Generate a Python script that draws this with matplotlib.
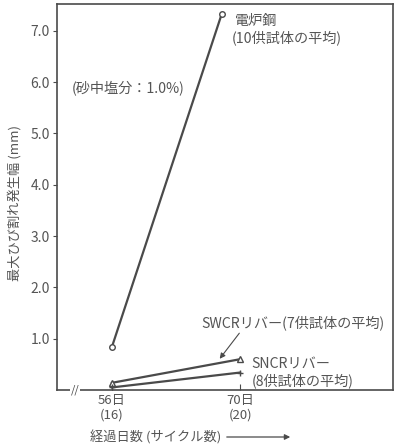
import matplotlib.pyplot as plt
import matplotlib as mpl
mpl.rcParams['font.family'] = ['Noto Sans CJK JP', 'DejaVu Sans']

# data
days_furnace = [56, 68]
crack_furnace = [0.84, 7.33]
days_swcr = [56, 70]
crack_swcr = [0.14, 0.60]
days_sncr = [56, 70]
crack_sncr = [0.05, 0.34]
yticks = [1.0, 2.0, 3.0, 4.0, 5.0, 6.0, 7.0]
xticks = [56, 70]
xticklabels = ['56日\n(16)', '70日\n(20)']

ink = '#4a4a4a'
txt = '#555555'
fs = 10.2

fig = plt.figure(figsize=(3.94, 4.47), dpi=100)
ax = fig.add_axes([57 / 394, 1 - 390 / 447, 336 / 394, 386 / 447])

ax.plot(days_furnace, crack_furnace, color=ink, lw=1.6, marker='o', ms=4,
        mfc='white', mec=ink, mew=1.0)
ax.plot(days_swcr, crack_swcr, color=ink, lw=1.6, marker='^', ms=4,
        mfc='white', mec=ink, mew=1.0)
ax.plot(days_sncr, crack_sncr, color=ink, lw=1.6, marker='+', ms=5,
        mec=ink, mew=1.0)

ax.set_xlim(50, 86.7)
ax.set_ylim(0, 7.52)
ax.set_yticks(yticks)
ax.set_yticklabels(['%.1f' % v for v in yticks], color=txt, fontsize=10)
ax.set_xticks(xticks)
ax.set_xticklabels(xticklabels, color=txt, fontsize=9.5, linespacing=1.15)
ax.tick_params(axis='y', direction='out', length=3, color=ink, pad=2)
ax.tick_params(axis='x', direction='in', length=4, color=ink, pad=3)
for s in ax.spines.values():
    s.set_color(ink)
    s.set_linewidth(1.2)

# break mark on x axis
ax.text(52.0, 0, '//', ha='center', va='center', fontsize=8, color=ink,
        style='italic', transform=ax.transData,
        bbox=dict(fc='white', ec='none', pad=0.5))

ax.text(235 / 394, 1 - 21 / 447, '電炉鋼', transform=fig.transFigure,
        ha='left', va='center', fontsize=fs, color=txt)
ax.text(232 / 394, 1 - 38 / 447, '(10供試体の平均)', transform=fig.transFigure,
        ha='left', va='center', fontsize=fs, color=txt)
ax.text(72 / 394, 1 - 89 / 447, '(砂中塩分：1.0%)', transform=fig.transFigure,
        ha='left', va='center', fontsize=fs, color=txt)
ax.text(201 / 394, 1 - 323 / 447, 'SWCRリバー(7供試体の平均)',
        transform=fig.transFigure, ha='left', va='center', fontsize=fs, color=txt)
ax.text(251 / 394, 1 - 364 / 447, 'SNCRリバー', transform=fig.transFigure,
        ha='left', va='center', fontsize=fs, color=txt)
ax.text(252 / 394, 1 - 381 / 447, '(8供試体の平均)', transform=fig.transFigure,
        ha='left', va='center', fontsize=fs, color=txt)
ax.annotate('', xy=(218 / 394, 1 - 361 / 447), xytext=(241 / 394, 1 - 331 / 447),
            xycoords='figure fraction', textcoords='figure fraction',
            arrowprops=dict(arrowstyle='-|>', color=ink, lw=0.8,
                            mutation_scale=8))

fig.text(15 / 394, 1 - 203 / 447, '最大ひび割れ発生幅 (mm)', rotation=90,
         ha='center', va='center', fontsize=9.5, color=txt)
fig.text(90 / 394, 1 - 437 / 447, '経過日数 (サイクル数)', ha='left',
         va='center', fontsize=9.5, color=txt)
ax.annotate('', xy=(293 / 394, 1 - 437 / 447), xytext=(224 / 394, 1 - 437 / 447),
            xycoords='figure fraction', textcoords='figure fraction',
            arrowprops=dict(arrowstyle='-|>', color=ink, lw=0.9,
                            mutation_scale=8))

fig.savefig('out.png', dpi=100)
